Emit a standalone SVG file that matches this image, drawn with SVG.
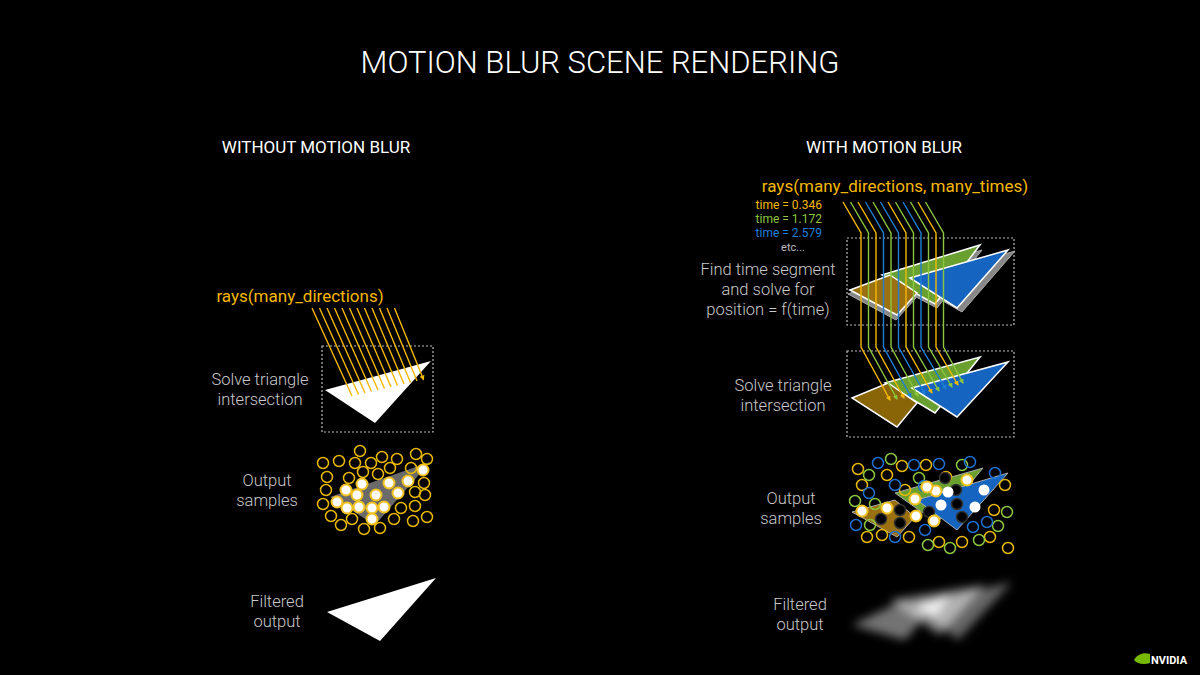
<svg xmlns="http://www.w3.org/2000/svg" width="1200" height="675" viewBox="0 0 1200 675">
<defs>
<style>
text{font-family:Roboto,"Liberation Sans",sans-serif;}
.t{fill:#fff;font-weight:300;}
.h{fill:#fff;font-size:17px;text-anchor:middle;}
.l{fill:#c8c8c8;font-size:16.5px;text-anchor:middle;font-weight:300;}
.y{fill:#f5b800;}
.box{fill:none;stroke:#bbb;stroke-width:1.2;stroke-dasharray:2 2;}
.ry{stroke:#f5b800;stroke-width:1.4;fill:none;}
.rg{stroke:#8cc63f;stroke-width:1.4;fill:none;}
.rb{stroke:#1e7fd6;stroke-width:1.4;fill:none;}
.cy{fill:none;stroke:#e8b800;stroke-width:1.5;}
.cg{fill:none;stroke:#8cc63f;stroke-width:1.5;}
.cb{fill:none;stroke:#1e6fd0;stroke-width:1.5;}
.fy{fill:#fff;stroke:#f0c020;stroke-width:2;}
.dk{fill:#000;stroke:#333;stroke-width:1.5;}
.tri{stroke:#fff;stroke-width:1.5;}
</style>
<marker id="ay" markerWidth="5" markerHeight="5" refX="4" refY="2.5" orient="auto" markerUnits="userSpaceOnUse"><path d="M0,0L5,2.5L0,5z" fill="#f5b800"/></marker>
<marker id="ag" markerWidth="5" markerHeight="5" refX="4" refY="2.5" orient="auto" markerUnits="userSpaceOnUse"><path d="M0,0L5,2.5L0,5z" fill="#8cc63f"/></marker>
<marker id="ab" markerWidth="5" markerHeight="5" refX="4" refY="2.5" orient="auto" markerUnits="userSpaceOnUse"><path d="M0,0L5,2.5L0,5z" fill="#1e7fd6"/></marker>
<filter id="blur" x="-20%" y="-50%" width="140%" height="200%"><feGaussianBlur stdDeviation="5"/></filter>
</defs>
<rect width="1200" height="675" fill="#000"/>
<text class="t" x="600" y="73" font-size="31" text-anchor="middle">MOTION BLUR SCENE RENDERING</text>
<text class="h" x="316" y="153">WITHOUT MOTION BLUR</text>
<text class="h" x="884" y="153">WITH MOTION BLUR</text>

<g id="left-labels">
<text class="y" x="300" y="302" font-size="17" text-anchor="middle">rays(many_directions)</text>
<text class="l" x="260" y="385">Solve triangle</text>
<text class="l" x="260" y="405">intersection</text>
<text class="l" x="267" y="486">Output</text>
<text class="l" x="267" y="506">samples</text>
<text class="l" x="277" y="607">Filtered</text>
<text class="l" x="277" y="627">output</text>
</g>

<g id="left-intersect">
<rect class="box" x="322" y="346" width="111" height="86"/>
<polygon points="325,390 431,361 375,423" fill="#fff"/>
</g>
<g id="left-rays">
<path class="ry" marker-end="url(#ay)" d="M312,308l40,88M319.5,308l39,86.5M327,308l38,85M334.5,308l37,83.5M342,308l36,82M349.5,308l35,80.5M357,308l34,79M364.5,308l33,77.5M372,308l32,76M379.5,308l31,74.5M387,308l30,73M394.5,308l29,71.5"/>
</g>

<g id="left-samples">
<polygon points="330,497 430,462 375,525" fill="#6a6a6a"/>
<g class="cy">
<circle cx="323" cy="463" r="5.5"/><circle cx="339" cy="461" r="5.5"/><circle cx="360" cy="451" r="5.5"/><circle cx="355" cy="463" r="5.5"/><circle cx="371" cy="463" r="5.5"/><circle cx="382" cy="457" r="5.5"/><circle cx="397" cy="459" r="5.5"/><circle cx="416" cy="454" r="5.5"/><circle cx="427" cy="459" r="5.5"/><circle cx="327" cy="477" r="5.5"/><circle cx="349" cy="478" r="5.5"/><circle cx="363" cy="472" r="5.5"/><circle cx="378" cy="474" r="5.5"/><circle cx="390" cy="468" r="5.5"/><circle cx="411" cy="468" r="5.5"/><circle cx="326" cy="490" r="5.5"/><circle cx="424" cy="483" r="5.5"/><circle cx="415" cy="492" r="5.5"/><circle cx="425" cy="495" r="5.5"/><circle cx="323" cy="504" r="5.5"/><circle cx="331" cy="516" r="5.5"/><circle cx="341" cy="525" r="5.5"/><circle cx="352" cy="519" r="5.5"/><circle cx="364" cy="529" r="5.5"/><circle cx="380" cy="528" r="5.5"/><circle cx="394" cy="519" r="5.5"/><circle cx="401" cy="508" r="5.5"/><circle cx="413" cy="521" r="5.5"/><circle cx="427" cy="517" r="5.5"/><circle cx="415" cy="506" r="5.5"/>
</g>
<g class="fy">
<circle cx="423" cy="470" r="5.5"/><circle cx="362" cy="484" r="5.5"/><circle cx="346" cy="490" r="5.5"/><circle cx="389" cy="483" r="5.5"/><circle cx="408" cy="481" r="5.5"/><circle cx="357" cy="495" r="5.5"/><circle cx="376" cy="495" r="5.5"/><circle cx="398" cy="493" r="5.5"/><circle cx="337" cy="502" r="5.5"/><circle cx="347" cy="508" r="5.5"/><circle cx="359" cy="507" r="5.5"/><circle cx="372" cy="508" r="5.5"/><circle cx="384" cy="507" r="5.5"/><circle cx="372" cy="519" r="5.5"/>
</g>
</g>
<g id="left-filtered"><polygon points="327,612 436,578 380,641" fill="#fff"/></g>

<g id="right-labels">
<text class="y" x="895" y="192" font-size="17" text-anchor="middle">rays(many_directions, many_times)</text>
<text x="822" y="209" font-size="12" fill="#f5b800" text-anchor="end">time = 0.346</text>
<text x="822" y="223" font-size="12" fill="#8cc63f" text-anchor="end">time = 1.172</text>
<text x="822" y="237" font-size="12" fill="#1e7fd6" text-anchor="end">time = 2.579</text>
<text x="793" y="251" font-size="11" fill="#bbb" text-anchor="middle">etc...</text>
<text class="l" x="768" y="275">Find time segment</text>
<text class="l" x="768" y="295">and solve for</text>
<text class="l" x="768" y="315">position = f(time)</text>
<text class="l" x="783" y="391">Solve triangle</text>
<text class="l" x="783" y="411">intersection</text>
<text class="l" x="791" y="504">Output</text>
<text class="l" x="791" y="524">samples</text>
<text class="l" x="800" y="610">Filtered</text>
<text class="l" x="800" y="630">output</text>
</g>

<g id="right-timebox">
<rect class="box" x="847" y="238" width="167" height="87"/>
<g fill="#888" stroke="#aaa" stroke-width="1">
<polygon points="848,294 890,278 916,298 896,320"/>
<polygon points="882,279 982,250 937,308"/>
<polygon points="910,282 1015,251 962,312"/>
</g>
<polygon class="tri" points="882,275 980,245 935,304" fill="#6aa030"/>
<polygon class="tri" points="910,278 1008,250 957,308" fill="#1565c0"/>
<polygon class="tri" points="850,290 890,275 917,293 897,315" fill="#9a7010"/>
</g>

<g id="right-solvebox">
<rect class="box" x="847" y="351" width="167" height="86"/>
<polygon class="tri" points="885,383 980,357 935,413" fill="#6aa030"/>
<polygon class="tri" points="912,388 1008,362 957,417" fill="#1565c0"/>
<polygon class="tri" points="852,398 888,383 917,403 897,427" fill="#8a6508"/>
</g>

<g id="right-rays">
<path class="ry" marker-end="url(#ay)" d="M843,202L861,233V347L890,400"/>
<path class="rg" marker-end="url(#ag)" d="M850.5,202L868.5,233V347L897,399"/>
<path class="ry" marker-end="url(#ay)" d="M858,202L876,233V347L904,398"/>
<path class="rb" marker-end="url(#ab)" d="M865.5,202L883.5,233V347L911,397"/>
<path class="rg" marker-end="url(#ag)" d="M873,202L891,233V347L918,396"/>
<path class="rb" marker-end="url(#ab)" d="M880.5,202L898.5,233V347L925,394"/>
<path class="ry" marker-end="url(#ay)" d="M888,202L906,233V347L932,393"/>
<path class="rg" marker-end="url(#ag)" d="M895.5,202L913.5,233V347L939,391"/>
<path class="rb" marker-end="url(#ab)" d="M903,202L921,233V347L946,389"/>
<path class="rg" marker-end="url(#ag)" d="M910.5,202L928.5,233V347L952,387"/>
<path class="ry" marker-end="url(#ay)" d="M918,202L936,233V347L958,385"/>
<path class="rg" marker-end="url(#ag)" d="M925.5,202L943.5,233V347L963,383"/>
</g>

<g id="right-samples">
<polygon points="895,493 983,468 937,523" fill="#6aa030" stroke="#aaa" stroke-width="1"/>
<polygon points="917,500 1008,473 957,530" fill="#1565c0" stroke="#aaa" stroke-width="1"/>
<polygon points="852,512 895,500 915,517 897,537" fill="#9a7010" stroke="#aaa" stroke-width="1"/>
<g class="cy">
<circle cx="858" cy="469" r="5.5"/><circle cx="902" cy="466" r="5.5"/><circle cx="926" cy="465" r="5.5"/><circle cx="887" cy="475" r="5.5"/><circle cx="946" cy="477" r="5.5"/><circle cx="862" cy="485" r="5.5"/><circle cx="1005" cy="485" r="5.5"/><circle cx="867" cy="537" r="5.5"/><circle cx="882" cy="535" r="5.5"/><circle cx="909" cy="537" r="5.5"/><circle cx="939" cy="542" r="5.5"/><circle cx="962" cy="542" r="5.5"/><circle cx="990" cy="537" r="5.5"/><circle cx="1008" cy="548" r="5.5"/><circle cx="994" cy="510" r="5.5"/><circle cx="905" cy="490" r="5.5"/>
</g>
<g class="cg">
<circle cx="891" cy="459" r="5.5"/><circle cx="962" cy="465" r="5.5"/><circle cx="869" cy="475" r="5.5"/><circle cx="855" cy="501" r="5.5"/><circle cx="875" cy="504" r="5.5"/><circle cx="1007" cy="512" r="5.5"/><circle cx="928" cy="545" r="5.5"/><circle cx="950" cy="548" r="5.5"/><circle cx="979" cy="540" r="5.5"/><circle cx="870" cy="525" r="5.5"/><circle cx="998" cy="526" r="5.5"/><circle cx="919" cy="478" r="5.5"/>
</g>
<g class="cb">
<circle cx="878" cy="463" r="5.5"/><circle cx="914" cy="465" r="5.5"/><circle cx="939" cy="464" r="5.5"/><circle cx="970" cy="462" r="5.5"/><circle cx="995" cy="473" r="5.5"/><circle cx="895" cy="485" r="5.5"/><circle cx="869" cy="493" r="5.5"/><circle cx="856" cy="525" r="5.5"/><circle cx="925" cy="530" r="5.5"/><circle cx="973" cy="527" r="5.5"/><circle cx="987" cy="522" r="5.5"/><circle cx="895" cy="537" r="5.5"/><circle cx="924" cy="486" r="5.5"/>
</g>
<g class="dk">
<circle cx="881" cy="519" r="5.5"/><circle cx="900" cy="523" r="5.5"/><circle cx="929" cy="512" r="5.5"/><circle cx="956" cy="490" r="5.5"/><circle cx="957" cy="504" r="5.5"/><circle cx="945" cy="478" r="5.5"/><circle cx="900" cy="510" r="5.5"/><circle cx="962" cy="517" r="5.5"/>
</g>
<g class="fy">
<circle cx="862" cy="511" r="5.5"/><circle cx="887" cy="508" r="5.5"/><circle cx="916" cy="516" r="5.5"/><circle cx="936" cy="491" r="5.5"/><circle cx="915" cy="499" r="5.5"/><circle cx="934" cy="521" r="5.5"/><circle cx="927" cy="487" r="5.5"/><circle cx="967" cy="480" r="5.5"/>
</g>
<g fill="#fff">
<circle cx="948" cy="492" r="5.5"/><circle cx="984" cy="490" r="5.5"/><circle cx="975" cy="507" r="5.5"/><circle cx="941" cy="505" r="5.5"/>
</g>
</g>

<g id="right-filtered" filter="url(#blur)">
<polygon points="852,625 900,602 930,610 905,640" fill="#fff" opacity="0.45"/>
<polygon points="890,600 985,585 940,635" fill="#fff" opacity="0.5"/>
<polygon points="915,605 1012,582 958,640" fill="#fff" opacity="0.4"/>
<polygon points="915,605 950,595 935,618" fill="#fff" opacity="0.8"/>
</g>

<g id="logo">
<path d="M1134,660c3,-6 10,-8 16,-6v9c-6,2 -13,1 -16,-3z" fill="#76b900"/>
<text x="1151" y="664" font-size="11" font-weight="bold" fill="#fff">NVIDIA</text>
</g>
</svg>
